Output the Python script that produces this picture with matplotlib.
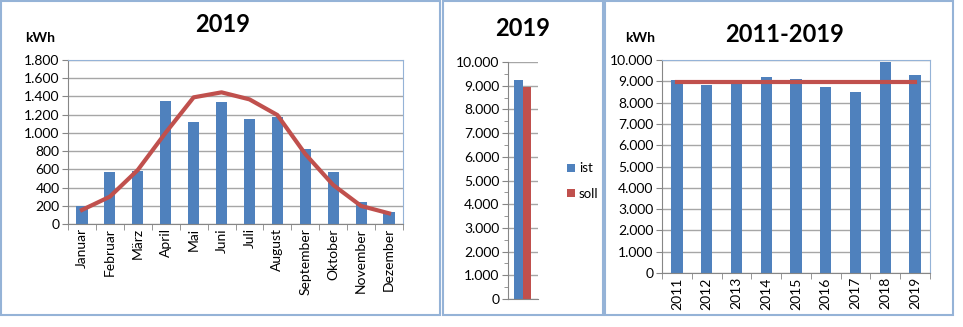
## plot.py
## Solar yield 2019: months, ist vs soll, and years 2011-2019

import numpy as np
import matplotlib.pyplot as plt
from matplotlib.patches import Rectangle
from matplotlib.ticker import FuncFormatter, MultipleLocator

plt.rcParams['font.family'] = ['Lato', 'DejaVu Sans']

months = ['Januar', 'Februar', 'März', 'April', 'Mai', 'Juni', 'Juli',
          'August', 'September', 'Oktober', 'November', 'Dezember']
ist_month = [200, 570, 578, 1350, 1123, 1343, 1153, 1175, 827, 574, 238, 135]
soll_month = [154, 300, 593, 1003, 1390, 1445, 1368, 1196, 768, 428, 198, 117]

ist_total = 9250
soll_total = 8950

years = ['2011', '2012', '2013', '2014', '2015', '2016', '2017', '2018', '2019']
ist_year = [9075, 8810, 8960, 9185, 9105, 8730, 8495, 9890, 9280]
soll_year = 8950

BLUE = '#4F81BD'
RED = '#C0504D'
GRID = '#A6A6A6'
FRAME = '#95B3D7'
W, H = 963, 327

fig = plt.figure(figsize=(W / 100, H / 100), dpi=100)

def box(l, t, r, b):   # pixel box -> figure rect
    return [l / W, 1 - b / H, (r - l) / W, (b - t) / H]

def dotfmt(v, pos):    # German thousands separator
    return '{:,.0f}'.format(v).replace(',', '.')

def style(ax, blue_frame=True):
    ax.set_axisbelow(True)
    ax.yaxis.grid(True, color=GRID, lw=1)
    ax.spines['left'].set_color('#868686')
    ax.spines['bottom'].set_color('#868686')
    for s in ['top', 'right']:
        ax.spines[s].set_visible(blue_frame)
        ax.spines[s].set_color(FRAME)
    ax.yaxis.set_major_formatter(FuncFormatter(dotfmt))
    ax.tick_params(axis='y', length=4, color='#868686', labelsize=10, pad=2)
    ax.tick_params(axis='x', length=0, labelsize=10, pad=3)

# panel frames
for l, t, r, b in [(1, 1, 440, 315), (443, 1, 603, 315), (605, 1, 953, 315)]:
    fig.patches.append(Rectangle((l / W, 1 - b / H), (r - l) / W, (b - t) / H,
                                 transform=fig.transFigure, fill=False,
                                 edgecolor=FRAME, lw=1.5))

# --- monthly
ax1 = fig.add_axes(box(68, 60, 403, 224))
x = np.arange(len(months))
ax1.bar(x, ist_month, width=0.4, color=BLUE)
ax1.plot(x, soll_month, color=RED, lw=3)
ax1.set_xlim(-0.5, len(months) - 0.5)
ax1.set_ylim(0, 1800)
ax1.yaxis.set_major_locator(MultipleLocator(200))
ax1.set_xticks(x)
ax1.set_xticklabels(months, rotation=90)
ax1.set_xticks(np.arange(-0.5, len(months)), minor=True)
ax1.tick_params(axis='x', which='minor', length=4, color='#868686')
style(ax1)
fig.text(223 / W, 1 - 25 / H, '2019', ha='center', va='center',
         fontsize=17, fontweight='bold')
fig.text(40 / W, 1 - 38 / H, 'kWh', ha='center', va='center',
         fontsize=10, fontweight='bold')

# --- total 2019
ax2 = fig.add_axes(box(508, 62, 538, 299))
b_ist = ax2.bar([-0.15], [ist_total], width=0.29, color=BLUE, label='ist')
b_soll = ax2.bar([0.135], [soll_total], width=0.27, color=RED, label='soll')
ax2.set_xlim(-0.5, 0.5)
ax2.set_ylim(0, 10000)
ax2.yaxis.set_major_locator(MultipleLocator(1000))
ax2.yaxis.set_minor_locator(MultipleLocator(500))
ax2.tick_params(axis='y', which='minor', length=3, color='#868686')
ax2.set_xticks([])
style(ax2, blue_frame=False)
fig.text(523 / W, 1 - 28 / H, '2019', ha='center', va='center',
         fontsize=17, fontweight='bold')
fig.legend(handles=[b_ist, b_soll], loc='center left',
           bbox_to_anchor=(555 / W, 1 - 181 / H), frameon=False,
           handlelength=0.6, handleheight=0.6, handletextpad=0.3,
           labelspacing=1.0, fontsize=9.5)

# --- years
ax3 = fig.add_axes(box(662, 60, 930, 273))
xy = np.arange(len(years))
ax3.bar(xy, ist_year, width=0.38, color=BLUE)
ax3.plot([xy[0], xy[-1]], [soll_year, soll_year], color=RED, lw=3)
ax3.set_xlim(-0.5, len(years) - 0.5)
ax3.set_ylim(0, 10000)
ax3.yaxis.set_major_locator(MultipleLocator(1000))
ax3.set_xticks(xy)
ax3.set_xticklabels(years, rotation=90)
ax3.set_xticks(np.arange(-0.5, len(years)), minor=True)
ax3.tick_params(axis='x', which='minor', length=4, color='#868686')
style(ax3)
fig.text(785 / W, 1 - 35 / H, '2011-2019', ha='center', va='center',
         fontsize=17, fontweight='bold')
fig.text(640 / W, 1 - 38 / H, 'kWh', ha='center', va='center',
         fontsize=10, fontweight='bold')

plt.savefig('out.png', dpi=100)
